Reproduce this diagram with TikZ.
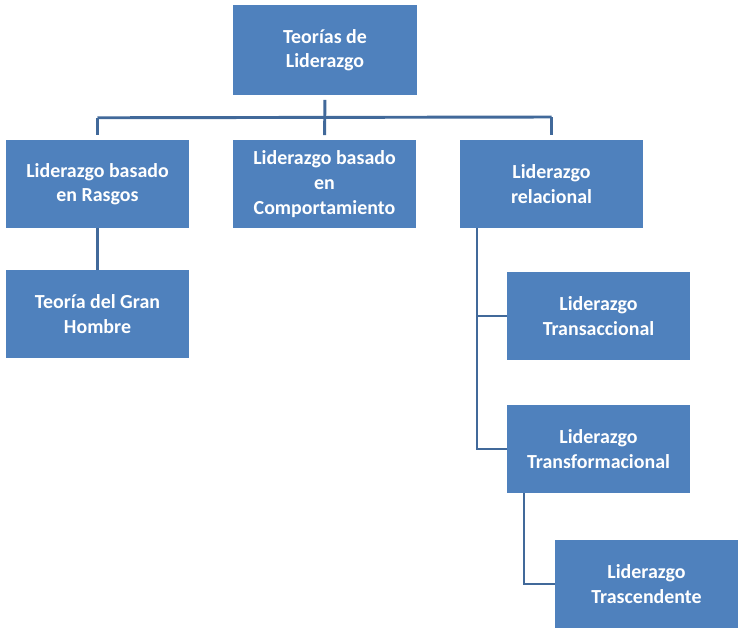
\documentclass[tikz,border=0pt]{standalone}
\usepackage{fontspec}
\setmainfont{Carlito}
\definecolor{boxblue}{HTML}{4F81BD}
\definecolor{lineblue}{HTML}{41699A}
\begin{document}
\begin{tikzpicture}[x=0.03cm, y=-0.03cm,
  leaderbox/.style={fill=boxblue, text=white, font=\bfseries\fontsize{17}{21}\selectfont,
    align=center, minimum width=5.49cm, minimum height=2.64cm, inner sep=2pt},
  link/.style={draw=lineblue, line width=2.5pt}]

\useasboundingbox (0,0) rectangle (743,632);

% boxes
\node[leaderbox, minimum height=2.7cm] (teorias) at (325, 50) {Teorías de\\Liderazgo};
\node[leaderbox] (rasgos) at (97.5, 184) {Liderazgo basado\\en Rasgos};
\node[leaderbox] (comport) at (324.5, 184) {Liderazgo basado\\en\\Comportamiento};
\node[leaderbox] (relacional) at (551.5, 184) {Liderazgo\\relacional};
\node[leaderbox] (gran) at (97.5, 314) {Teoría del Gran\\Hombre};
\node[leaderbox] (transacc) at (598.5, 316) {Liderazgo\\Transaccional};
\node[leaderbox] (transform) at (598.5, 449) {Liderazgo\\Transformacional};
\node[leaderbox] (trasc) at (646.5, 584) {Liderazgo\\Trascendente};

% connectors
\coordinate (bus) at (325, 117);
\draw[link, shorten <=4pt, shorten >=4pt] (teorias.south) -- (comport.north);
\draw[link, shorten >=4pt] (rasgos.north) ++(0,0) ++(0,-22) coordinate (busl) -- (rasgos.north);
\draw[link] (busl) -- (bus -| relacional.north) coordinate (busr);
\draw[link, shorten >=4pt] (busr) -- (relacional.north);
\draw[link] (rasgos.south) -- (gran.north);
\draw[link] (relacional.south -| 477,0) coordinate (relfoot) |- (transacc.west);
\draw[link] (relfoot) |- (transform.west);
\draw[link] (transform.south -| 524,0) |- (trasc.west);

\end{tikzpicture}
\end{document}
